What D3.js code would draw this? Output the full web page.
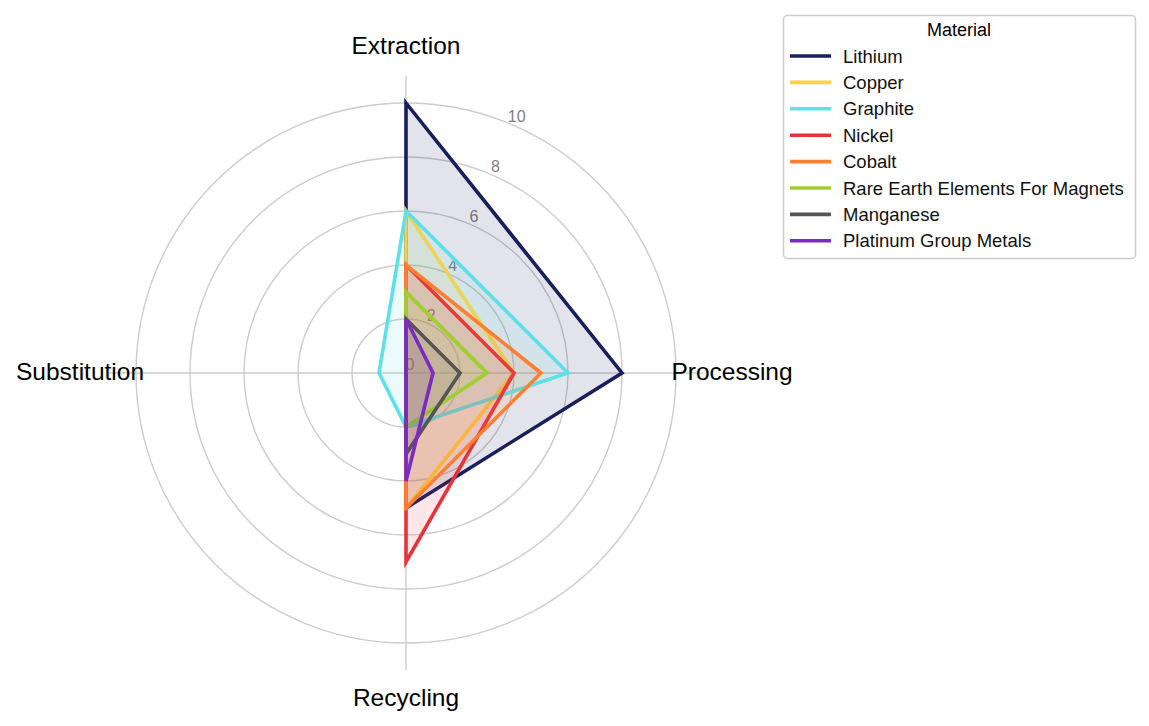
<!DOCTYPE html>
<html>
<head>
<meta charset="utf-8">
<script src="https://cdn.jsdelivr.net/npm/d3@7"></script>
<style>
  html, body { margin: 0; padding: 0; background: #fff; }
  svg { display: block; font-family: "Liberation Sans", Arial, sans-serif; }
</style>
</head>
<body>
<svg id="chart" width="1149" height="726"></svg>
<script>
const axes = ["Extraction", "Processing", "Recycling", "Substitution"];
const materials = ["Lithium", "Copper", "Graphite", "Nickel", "Cobalt", "Rare Earth Elements For Magnets", "Manganese", "Platinum Group Metals"];
const lithium   = [10, 8, 5, 0];
const copper    = [6, 4, 5, 0];
const graphite  = [6, 6, 2, 1];
const nickel    = [4, 4, 7, 0];
const cobalt    = [4, 5, 5, 0];
const rareEarth = [3, 3, 2, 0];
const manganese = [2, 2, 3, 0];
const pgm       = [2, 1, 4, 0];
const colors = ["#191f5c", "#ffd23f", "#5ce1e6", "#e63238", "#ff7f32", "#9fcf2a", "#555555", "#7b2cbf"];
const radialTicks = [0, 2, 4, 6, 8, 10];
const gridValues = [2, 4, 6, 8, 10];
const rMax = 11;

const seriesValues = [lithium, copper, graphite, nickel, cobalt, rareEarth, manganese, pgm];

const svg = d3.select("#chart");
const cx = 406, cy = 373;
const r = d3.scaleLinear().domain([0, rMax]).range([0, 297]);
const angle = d3.scalePoint().domain(axes).range([0, 2 * Math.PI * (axes.length - 1) / axes.length]);

const g = svg.append("g").attr("transform", `translate(${cx},${cy})`);

// grid circles
g.selectAll("circle.grid").data(gridValues).join("circle")
  .attr("r", d => r(d)).attr("fill", "none")
  .attr("stroke", "#cccccc").attr("stroke-width", 1.4);

// spokes
g.selectAll("line.spoke").data(axes).join("line")
  .attr("x1", 0).attr("y1", 0)
  .attr("x2", d => r(rMax) * Math.sin(angle(d)))
  .attr("y2", d => -r(rMax) * Math.cos(angle(d)))
  .attr("stroke", "#cccccc").attr("stroke-width", 1.4);

// tick labels
const labelAngle = 23.3 * Math.PI / 180;
g.selectAll("text.tick").data(radialTicks).join("text")
  .attr("x", d => (r(d) + 10) * Math.sin(labelAngle))
  .attr("y", d => -(r(d) + 10) * Math.cos(labelAngle) + 1)
  .attr("text-anchor", "middle").attr("dominant-baseline", "central")
  .attr("font-size", 16).attr("fill", "#808080")
  .text(d => d);

// series
const line = d3.lineRadial()
  .angle((d, i) => angle(axes[i]))
  .radius(d => r(d))
  .curve(d3.curveLinearClosed);

const sg = g.selectAll("g.series").data(seriesValues).join("g");
sg.append("path").attr("d", d => line(d))
  .attr("fill", (d, i) => colors[i]).attr("fill-opacity", 0.12).attr("stroke", "none");
sg.append("path").attr("d", d => line(d))
  .attr("fill", "none").attr("stroke", (d, i) => colors[i])
  .attr("stroke-width", 3.6).attr("stroke-linejoin", "miter");

// axis labels
g.selectAll("text.axis").data(axes).join("text")
  .attr("x", d => 326 * Math.sin(angle(d)))
  .attr("y", d => -326 * Math.cos(angle(d)) - 2)
  .attr("text-anchor", "middle").attr("dominant-baseline", "central")
  .attr("font-size", 24.5).attr("fill", "#000")
  .text(d => d);

// legend
const lg = svg.append("g").attr("transform", "translate(783,15)");
lg.append("rect").attr("x", 0.5).attr("y", 0.5).attr("width", 352).attr("height", 243)
  .attr("rx", 4).attr("fill", "#fff").attr("stroke", "#cccccc").attr("stroke-width", 1.5);
lg.append("text").attr("x", 176).attr("y", 15).attr("text-anchor", "middle")
  .attr("dominant-baseline", "central").attr("font-size", 18).attr("fill", "#000").text("Material");
const items = lg.selectAll("g.item").data(materials).join("g")
  .attr("transform", (d, i) => `translate(0,${41 + i * 26.4})`);
items.append("line").attr("x1", 7).attr("x2", 48).attr("y1", 0).attr("y2", 0)
  .attr("stroke", (d, i) => colors[i]).attr("stroke-width", 3.6);
items.append("text").attr("x", 60).attr("y", 0).attr("dominant-baseline", "central")
  .attr("font-size", 18.5).attr("fill", "#111").text(d => d);
</script>
</body>
</html>
